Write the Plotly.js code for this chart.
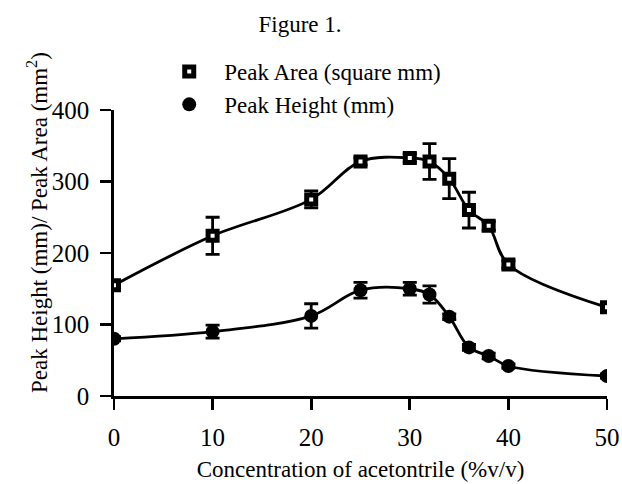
<!DOCTYPE html>
<html>
<head>
<meta charset="utf-8">
<script src="https://cdn.plot.ly/plotly-3.0.1.min.js"></script>
<style>html,body{margin:0;padding:0;background:#fff;}#chart{width:622px;height:484px;}</style>
</head>
<body>
<div id="chart"></div>
<script>
const concentration = [0, 10, 20, 25, 30, 32, 34, 36, 38, 40, 50];
const peakArea = [155, 224, 275, 328, 333, 328, 304, 260, 238, 184, 124];
const peakAreaErr = [6, 26, 12, 5, 6, 25, 28, 25, 6, 5, 6];
const peakHeight = [80, 90, 112, 148, 150, 142, 111, 68, 56, 42, 28];
const peakHeightErr = [3, 9, 17, 11, 9, 12, 4, 4, 4, 3, 3];
const xTicks = [0, 10, 20, 30, 40, 50];
const yTicks = [0, 100, 200, 300, 400];
const seriesNames = ['Peak Area (square mm)', 'Peak Height (mm)'];

const FAM = '"Liberation Serif", "DejaVu Serif", serif';
const f = (s) => ({family: FAM, color: '#000', size: s});

const lineStyle = {shape: 'spline', smoothing: 1, color: '#000', width: 2.8};
const errStyle = (arr) => ({type: 'data', array: arr, visible: true, color: '#000', thickness: 2.8, width: 7});

const traces = [
  {x: concentration, y: peakArea, type: 'scatter', mode: 'lines', line: lineStyle, showlegend: false, hoverinfo: 'skip'},
  {x: concentration, y: peakHeight, type: 'scatter', mode: 'lines', line: lineStyle, showlegend: false, hoverinfo: 'skip'},
  {
    x: concentration, y: peakArea, name: seriesNames[0], legendgroup: 'a',
    type: 'scatter', mode: 'markers',
    marker: {symbol: 'square', size: 9, color: '#fff', line: {color: '#000', width: 5}},
    error_y: errStyle(peakAreaErr)
  },
  {
    x: concentration, y: peakHeight, name: seriesNames[1], legendgroup: 'b',
    type: 'scatter', mode: 'markers',
    marker: {symbol: 'circle', size: 14, color: '#000', line: {width: 0}},
    error_y: errStyle(peakHeightErr)
  }
];

const layout = {
  width: 622, height: 484,
  margin: {l: 114, r: 15, t: 110, b: 88},
  paper_bgcolor: '#fff', plot_bgcolor: '#fff',
  font: f(23),
  title: {text: 'Figure 1.', font: f(23), x: 300 / 622, xanchor: 'center', y: 1 - 24 / 484, yanchor: 'middle'},
  showlegend: true,
  legend: {
    x: (153 - 114) / 478, xanchor: 'left', y: (396 - 50) / 286, yanchor: 'top',
    bgcolor: 'rgba(0,0,0,0)', font: f(23),
    traceorder: 'grouped', tracegroupgap: 0, itemwidth: 60
  },
  xaxis: {
    range: [0, 50], tickvals: xTicks, ticktext: xTicks.map(String),
    showgrid: false, zeroline: false, showline: true, linecolor: '#000', linewidth: 2.8,
    ticks: 'outside', ticklen: 11, tickwidth: 2.8, tickcolor: '#000', ticklabelstandoff: 6,
    tickfont: f(25),
    title: {text: 'Concentration of acetontrile (%v/v)', font: f(23), standoff: 12}
  },
  yaxis: {
    range: [0, 400], tickvals: yTicks, ticktext: yTicks.map(String),
    showgrid: false, zeroline: false, showline: true, linecolor: '#000', linewidth: 2.8,
    ticks: 'outside', ticklen: 11, tickwidth: 2.8, tickcolor: '#000', ticklabelstandoff: 6,
    tickfont: f(25)
  },
  annotations: [{
    text: 'Peak Height (mm)/ Peak Area (mm<sup>2</sup>)',
    xref: 'paper', yref: 'paper', x: (37 - 114) / 493, y: (396 - 223) / 286,
    xanchor: 'center', yanchor: 'middle', textangle: -90, showarrow: false, font: f(23)
  }]
};

Plotly.newPlot('chart', traces, layout, {displayModeBar: false, staticPlot: true});
</script>
</body>
</html>
